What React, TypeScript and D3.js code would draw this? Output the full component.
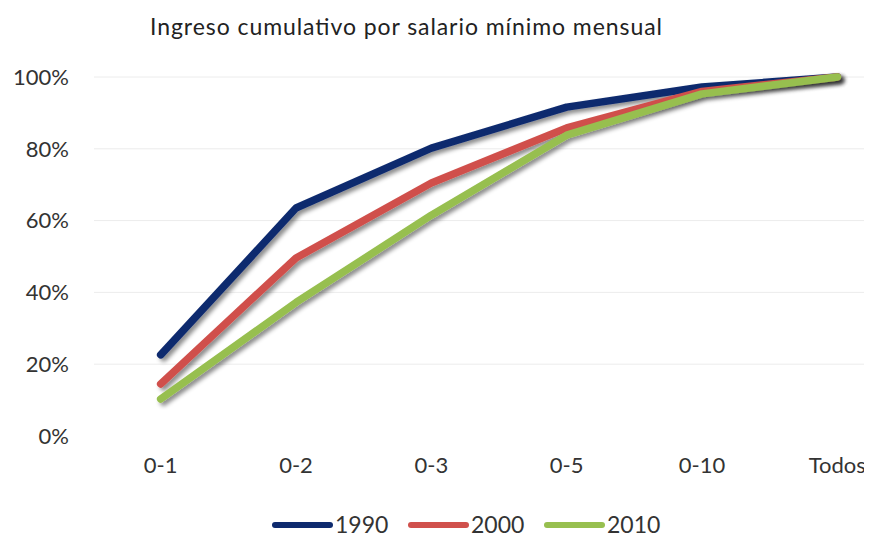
import { useEffect, useRef } from 'react';
import * as d3 from 'd3';

const categories = ['0-1', '0-2', '0-3', '0-5', '0-10', 'Todos'];
const yTicks = [0, 0.2, 0.4, 0.6, 0.8, 1];
const seriesNames = ['1990', '2000', '2010'];
const values1990 = [0.226, 0.635, 0.802, 0.916, 0.972, 1.0];
const values2000 = [0.145, 0.496, 0.705, 0.858, 0.96, 1.0];
const values2010 = [0.103, 0.372, 0.615, 0.838, 0.953, 1.0];
const colors = ['#0e2a6e', '#d0504c', '#97bf4f'];

export default function App() {
  const ref = useRef<SVGSVGElement | null>(null);

  useEffect(() => {
    if (!ref.current) return;
    const svg = d3.select(ref.current);
    svg.selectAll('*').remove();

    const width = 872;
    const height = 537;
    const font = 'Lato, "Open Sans", sans-serif';

    svg.attr('width', width).attr('height', height);

    const defs = svg.append('defs');
    const filter = defs.append('filter')
      .attr('id', 'shadow')
      .attr('x', '-10%').attr('y', '-10%')
      .attr('width', '130%').attr('height', '130%');
    filter.append('feDropShadow')
      .attr('dx', 3).attr('dy', 3)
      .attr('stdDeviation', 2)
      .attr('flood-color', '#000')
      .attr('flood-opacity', 0.45);

    const x = d3.scaleBand<string>()
      .domain(categories)
      .range([93, 905]);
    const y = d3.scaleLinear().domain([0, 1]).range([436, 77]);

    // title
    svg.append('text')
      .attr('x', 150)
      .attr('y', 35)
      .attr('font-family', font)
      .attr('font-size', 23)
      .attr('fill', '#222')
      .attr('textLength', 512)
      .attr('lengthAdjust', 'spacing')
      .text('Ingreso cumulativo por salario mínimo mensual');

    // gridlines
    svg.append('g')
      .selectAll('line')
      .data(yTicks.filter((d) => d > 0))
      .join('line')
      .attr('x1', 94)
      .attr('x2', width)
      .attr('y1', (d) => y(d))
      .attr('y2', (d) => y(d))
      .attr('stroke', '#ececec')
      .attr('stroke-width', 1);

    // y labels
    svg.append('g')
      .selectAll('text')
      .data(yTicks)
      .join('text')
      .attr('x', 69)
      .attr('y', (d) => y(d))
      .attr('dy', '0.35em')
      .attr('text-anchor', 'end')
      .attr('font-family', font)
      .attr('font-size', 22)
      .attr('fill', '#333')
      .text((d) => `${Math.round(d * 100)}%`);

    // x labels
    svg.append('g')
      .selectAll('text')
      .data(categories)
      .join('text')
      .attr('x', (d) => x(d)! + x.bandwidth() / 2)
      .attr('y', 473)
      .attr('text-anchor', 'middle')
      .attr('font-family', font)
      .attr('font-size', 22)
      .attr('fill', '#333')
      .text((d) => d);

    const all = [values1990, values2000, values2010];
    const line = d3.line<number>()
      .x((_, i) => x(categories[i])! + x.bandwidth() / 2)
      .y((d) => y(d));

    all.forEach((vals, i) => {
      svg.append('path')
        .attr('d', line(vals)!)
        .attr('fill', 'none')
        .attr('stroke', colors[i])
        .attr('stroke-width', 7.5)
        .attr('stroke-linecap', 'round')
        .attr('stroke-linejoin', 'round')
        .attr('filter', 'url(#shadow)');
    });

    // legend
    const legend = svg.append('g').attr('transform', 'translate(275,525)');
    seriesNames.forEach((name, i) => {
      const row = legend.append('g').attr('transform', `translate(${i * 136},0)`);
      row.append('line')
        .attr('x1', 0).attr('x2', 55)
        .attr('y1', 0).attr('y2', 0)
        .attr('stroke', colors[i])
        .attr('stroke-width', 6)
        .attr('stroke-linecap', 'round');
      row.append('text')
        .attr('x', 60)
        .attr('y', 0)
        .attr('dy', '0.34em')
        .attr('font-family', font)
        .attr('font-size', 23)
        .attr('fill', '#333')
        .text(name);
    });
  }, []);

  return <svg ref={ref} style={{ display: 'block', margin: '-8px -8px 0 -8px' }}></svg>;
}
